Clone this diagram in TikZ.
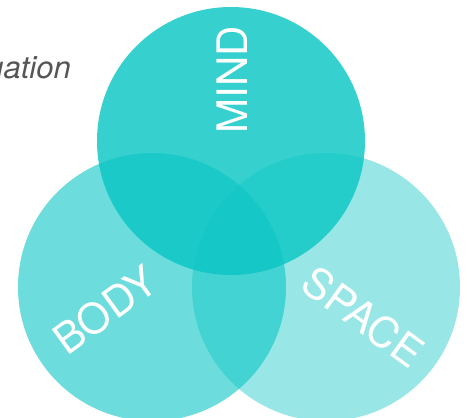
\documentclass[tikz,border=0pt]{standalone}
\usepackage{fontspec}
\setmainfont{TeX Gyre Heros}
\definecolor{tealbase}{RGB}{10,198,196}
\definecolor{labelgray}{RGB}{85,85,85}
\tikzset{
  venn/.style={circle, inner sep=0pt, minimum size=268pt, fill=tealbase, draw=none},
  biglabel/.style={text=white, inner sep=0pt, font=\fontsize{42}{42}\selectfont},
}
\begin{document}
\begin{tikzpicture}[x=1pt,y=-1pt]
\useasboundingbox (0,0) rectangle (467,418);
\clip (0,0) rectangle (467,418);
\node[venn, fill opacity=0.6] (body) at (152,287) {};
\node[venn, fill opacity=0.42] (space) at (326,287) {};
\node[venn, fill opacity=0.82] (mind) at (231,141) {};
\node[biglabel, rotate=90] (mindlabel) at (232,80) {MIND};
\node[biglabel, rotate=36] (bodylabel) at (105,310) {BODY};
\node[biglabel, rotate=-36] (spacelabel) at (363,317) {SPACE};
\node[anchor=base east, inner sep=0pt, text=labelgray, font=\fontsize{31}{31}\selectfont\itshape] (situation) at (71,78) {uation};
\end{tikzpicture}
\end{document}
